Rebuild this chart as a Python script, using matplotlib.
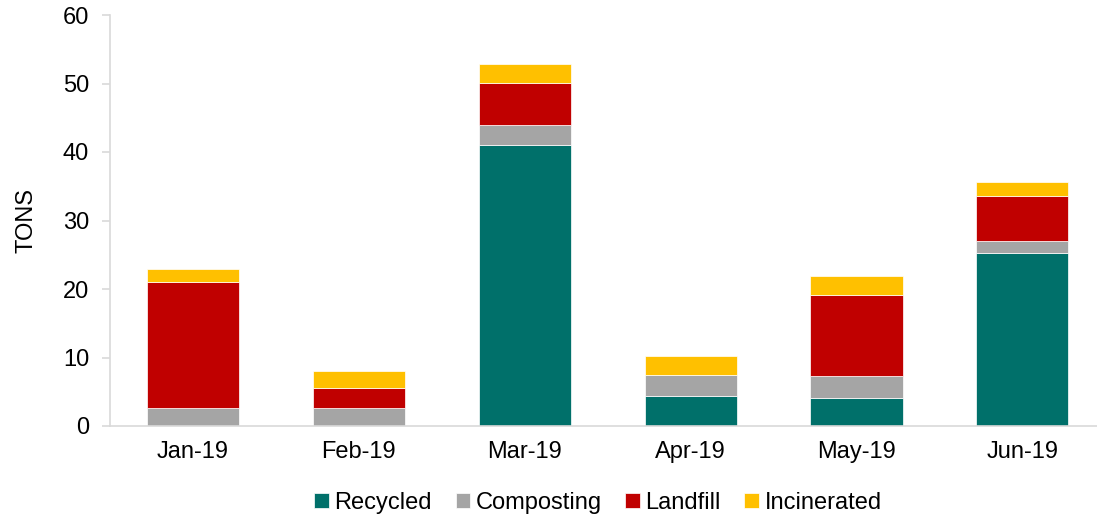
import numpy as np
import matplotlib.pyplot as plt

plt.rcParams['font.family'] = ['Liberation Sans', 'DejaVu Sans']

months = ["Jan-19", "Feb-19", "Mar-19", "Apr-19", "May-19", "Jun-19"]
recycled = [0.0, 0.0, 41.0, 4.4, 4.1, 25.3]
composting = [2.6, 2.7, 2.9, 3.1, 3.2, 1.7]
landfill = [18.4, 2.85, 6.2, 0.0, 11.8, 6.6]
incinerated = [1.85, 2.5, 2.8, 2.7, 2.75, 2.0]

series = [
    ("Recycled", recycled, "#00706A"),
    ("Composting", composting, "#A5A5A5"),
    ("Landfill", landfill, "#C00000"),
    ("Incinerated", incinerated, "#FFC000"),
]

fig = plt.figure(figsize=(10.97, 5.19), dpi=100)
ax = fig.add_axes([110 / 1097, (519 - 426) / 519, (1097 - 110) / 1097, 411 / 519])

x = np.arange(len(months))
bottom = np.zeros(len(months))
for name, vals, color in series:
    vals = np.array(vals)
    ax.bar(x, vals, width=0.555, bottom=bottom, color=color, label=name,
           edgecolor="white", linewidth=0.5)
    bottom += vals

ax.set_xlim(-0.5, 5.45)
ax.set_ylim(0, 60)
ax.set_yticks(range(0, 61, 10))
ax.set_xticks(x)
ax.set_xticklabels(months)

for side in ["top", "right"]:
    ax.spines[side].set_visible(False)
for side in ["left", "bottom"]:
    ax.spines[side].set_color("#D9D9D9")
    ax.spines[side].set_linewidth(1.2)

ax.tick_params(axis="y", length=6, color="#D9D9D9", width=1.2, labelsize=17,
               pad=9, labelcolor="#000000")
ax.tick_params(axis="x", length=0, labelsize=17, pad=11, labelcolor="#000000")
ax.set_ylabel("TONS", fontsize=17, labelpad=18)

ax.legend(loc="center", bbox_to_anchor=(598 / 1097, 16 / 519),
          bbox_transform=fig.transFigure, ncol=4, frameon=False, fontsize=17,
          handlelength=0.6, handleheight=0.6, handletextpad=0.25,
          columnspacing=1.0)

fig.savefig("out.png", dpi=100)
